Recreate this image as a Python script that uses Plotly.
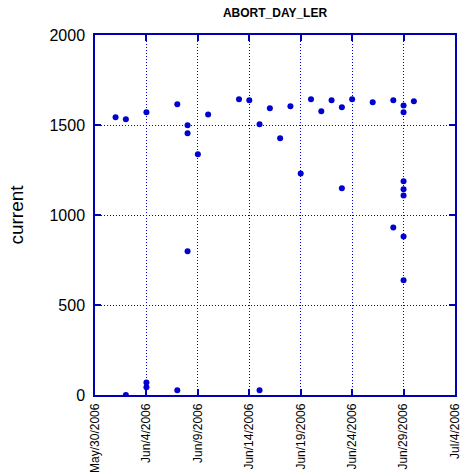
import pandas as pd
import plotly.graph_objects as go

# fechas y valores
dates = [
    "2006-06-01", "2006-06-02", "2006-06-02", "2006-06-04", "2006-06-04", "2006-06-04",
    "2006-06-07", "2006-06-07", "2006-06-08", "2006-06-08", "2006-06-08", "2006-06-09",
    "2006-06-10", "2006-06-13", "2006-06-14", "2006-06-15", "2006-06-15", "2006-06-16",
    "2006-06-17", "2006-06-18", "2006-06-19", "2006-06-20", "2006-06-21", "2006-06-22",
    "2006-06-23", "2006-06-23", "2006-06-24", "2006-06-26", "2006-06-28", "2006-06-28",
    "2006-06-29", "2006-06-29", "2006-06-29", "2006-06-29", "2006-06-29", "2006-06-29",
    "2006-06-29", "2006-06-30",
]
current = [
    1543, 1532, 0, 1571, 70, 43,
    1615, 26, 1498, 1454, 798, 1337,
    1559, 1643, 1637, 1504, 26, 1593,
    1426, 1604, 1231, 1643, 1576, 1637,
    1598, 1148, 1643, 1626, 1637, 931,
    1609, 1571, 1187, 1143, 1109, 881,
    637, 1632,
]

tick_dates = ["2006-05-30", "2006-06-04", "2006-06-09", "2006-06-14",
              "2006-06-19", "2006-06-24", "2006-06-29", "2006-07-04"]
tick_labels = ["May/30/2006", "Jun/4/2006", "Jun/9/2006", "Jun/14/2006",
               "Jun/19/2006", "Jun/24/2006", "Jun/29/2006", "Jul/4/2006"]
y_ticks = [0, 500, 1000, 1500, 2000]

AXIS = "#0000b4"
GRID = "#0000f0"
DOT = "#0000d0"

W, H = 463, 472

fig = go.Figure(
    go.Scatter(
        x=pd.to_datetime(dates),
        y=current,
        mode="markers",
        marker=dict(size=6, color=DOT),
        showlegend=False,
    )
)

fig.update_layout(
    width=W,
    height=H,
    paper_bgcolor="white",
    plot_bgcolor="white",
    font=dict(family="Liberation Sans, Arial, sans-serif", color="black"),
    title=dict(
        text="<b>ABORT_DAY_LER</b>",
        font=dict(size=12),
        x=275 / W,
        xanchor="center",
        y=1 - 13 / H,
        yanchor="middle",
    ),
    margin=dict(l=95, r=8, t=35, b=77),
)

common = dict(
    showgrid=True,
    gridcolor=GRID,
    griddash="1px,2px",
    gridwidth=1,
    showline=True,
    linecolor=AXIS,
    linewidth=1.5,
    mirror="allticks",
    ticks="inside",
    ticklen=6,
    tickwidth=1.5,
    tickcolor=AXIS,
    zeroline=False,
    automargin=False,
)

fig.update_xaxes(
    range=[pd.Timestamp("2006-05-30"), pd.Timestamp("2006-07-04")],
    tickvals=pd.to_datetime(tick_dates),
    ticktext=tick_labels,
    tickangle=-90,
    tickfont=dict(size=12),
    ticklabelstandoff=2,
    **common,
)
fig.update_yaxes(
    range=[0, 2000],
    tickvals=y_ticks,
    tickfont=dict(size=16),
    ticklabelstandoff=5,
    title=dict(text="current", font=dict(size=19), standoff=21),
    **common,
)

# quitar el margen por defecto del body para que la figura empiece en (0,0)
fig.write_html(
    "out.html",
    config={"displayModeBar": False},
    post_script="document.body.style.margin='0';",
)
